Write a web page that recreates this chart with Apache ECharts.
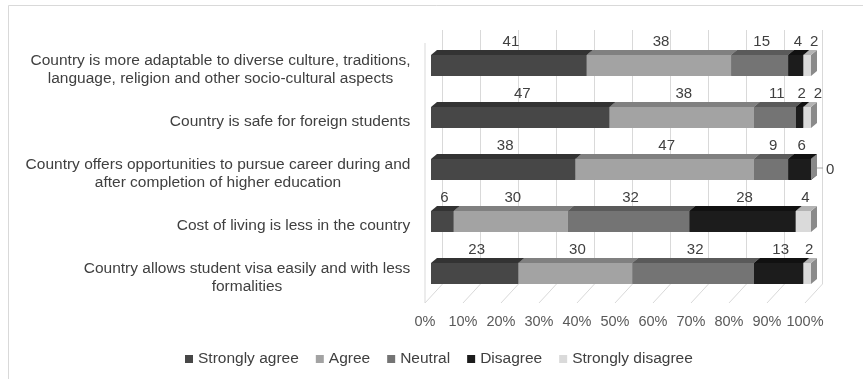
<!DOCTYPE html>
<html>
<head>
<meta charset="utf-8">
<script src="https://cdn.jsdelivr.net/npm/echarts@6/dist/echarts.min.js"></script>
<style>
  html, body { margin: 0; padding: 0; background: #ffffff; }
  #chart { width: 863px; height: 379px; }
</style>
</head>
<body>
<div id="chart"></div>
<script>
// Survey statements (top to bottom)
const categories = [
  'Country is more adaptable to diverse culture, traditions,\nlanguage, religion and other socio-cultural aspects',
  'Country is safe for foreign students',
  'Country offers opportunities to pursue career during and\nafter completion of higher education',
  'Cost of living is less in the country',
  'Country allows student visa easily and with less\nformalities'
];

const seriesNames = ['Strongly agree', 'Agree', 'Neutral', 'Disagree', 'Strongly disagree'];

// Percent of respondents per statement
const stronglyAgree    = [41, 47, 38, 6, 23];
const agree            = [38, 38, 47, 30, 30];
const neutral          = [15, 11, 9, 32, 32];
const disagree         = [4, 2, 6, 28, 13];
const stronglyDisagree = [2, 2, 0, 4, 2];

const tickValues = [0, 10, 20, 30, 40, 50, 60, 70, 80, 90, 100];

const FONT = '"Liberation Sans", Arial, sans-serif';
const FS = 15.5;
const FS_VALUE = 15;
const FS_TICK = 14.5;

// front / top / side shades for each response
const palette = [
  { front: '#474747', top: '#333333', side: '#2c2c2c' },
  { front: '#a3a3a3', top: '#808080', side: '#7a7a7a' },
  { front: '#747474', top: '#5a5a5a', side: '#555555' },
  { front: '#1c1c1c', top: '#111111', side: '#101010' },
  { front: '#dadada', top: '#b3b3b3', side: '#8a8a8a' }
];

const allValues = [stronglyAgree, agree, neutral, disagree, stronglyDisagree];

// segment start/end per series, stacked left to right
const starts = categories.map(() => 0);
const segments = allValues.map(vals => vals.map((v, i) => {
  const s = starts[i];
  starts[i] += v;
  return [s, s + v, i, v];
}));

// depth of the extruded bars
const DX = 6, DY = -5;

const ctx = document.createElement('canvas').getContext('2d');
const textW = (t, size) => { ctx.font = size + 'px ' + FONT; return ctx.measureText(t).width; };

// value labels sit above each segment; a label is pushed right when it would
// run into the one before it on the same bar
const LABEL_GAP = 8;
const labelRight = {}; // per category: right edge of the last placed label

function renderBar(si) {
  const col = palette[si];
  return function (params, api) {
    const s = api.value(0), e = api.value(1), c = api.value(2), v = api.value(3);
    const p0 = api.coord([s, c]);
    const p1 = api.coord([e, c]);
    const h = api.size([0, 1])[1] * 0.404;
    const yc = p0[1];
    const yt = yc - h / 2, yb = yc + h / 2;
    const x0 = p0[0], x1 = p1[0];
    const children = [];
    // right side face
    children.push({
      type: 'polygon',
      shape: { points: [[x1, yt], [x1 + DX, yt + DY], [x1 + DX, yb + DY], [x1, yb]] },
      style: { fill: col.side }
    });
    if (e > s) {
      children.push({
        type: 'polygon',
        shape: { points: [[x0, yt], [x0 + DX, yt + DY], [x1 + DX, yt + DY], [x1, yt]] },
        style: { fill: col.top }
      });
      children.push({
        type: 'rect',
        shape: { x: x0, y: yt, width: x1 - x0, height: h },
        style: { fill: col.front }
      });
      const txt = String(v);
      const w = textW(txt, FS_VALUE);
      let cx = (x0 + x1) / 2 + 2;
      if (si === 0) labelRight[c] = -Infinity;
      if (cx - w / 2 < labelRight[c] + LABEL_GAP) cx = labelRight[c] + LABEL_GAP + w / 2;
      labelRight[c] = cx + w / 2;
      children.push({
        type: 'text',
        style: {
          text: txt, x: cx, y: yc - 24,
          align: 'center', verticalAlign: 'middle',
          fill: '#404040', fontSize: FS_VALUE, fontFamily: FONT
        }
      });
    } else {
      // zero share: value placed beside the bar end with a short leader
      const ly = yc - 1.5;
      children.push({
        type: 'line',
        shape: { x1: x1 + DX, y1: ly, x2: x1 + DX + 6, y2: ly },
        style: { stroke: '#a6a6a6', lineWidth: 1 }
      });
      children.push({
        type: 'text',
        style: {
          text: String(v), x: x1 + DX + 9, y: yc,
          align: 'left', verticalAlign: 'middle',
          fill: '#404040', fontSize: FS_VALUE, fontFamily: FONT
        }
      });
    }
    return { type: 'group', children: children };
  };
}

// floor lines running from the back wall to the front edge, plus the side wall edge
function renderFloor(params, api) {
  const v = api.value(0);
  const p = api.coord([v, 0]);
  const children = [{
    type: 'line',
    shape: { x1: p[0], y1: p[1], x2: p[0] - 17.5, y2: p[1] + 19 },
    style: { stroke: '#d9d9d9', lineWidth: 1 }
  }];
  if (v === 0) {
    children.push({
      type: 'line',
      shape: { x1: p[0] - 17.5, y1: p[1] + 19, x2: p[0] - 17.5, y2: 43 },
      style: { stroke: '#d9d9d9', lineWidth: 1 }
    });
  }
  return { type: 'group', children: children };
}

// centred multi-line category labels: give each label a box as wide as its longest line
const rich = {};
categories.forEach((c, i) => {
  const w = Math.max(...c.split('\n').map(l => textW(l, FS)));
  rich['c' + i] = {
    width: Math.ceil(w) + 1, align: 'center', lineHeight: 18,
    fontSize: FS, fontFamily: FONT, color: '#404040'
  };
});

const chart = echarts.init(document.getElementById('chart'), null, { renderer: 'canvas' });

const series = seriesNames.map((name, si) => ({
  name: name,
  type: 'custom',
  xAxisIndex: 0, yAxisIndex: 0,
  renderItem: renderBar(si),
  clip: false,
  itemStyle: { color: palette[si].front },
  encode: { x: [0, 1], y: 2 },
  data: segments[si],
  z: 5 + si
}));

series.unshift({
  name: 'floor',
  type: 'custom',
  xAxisIndex: 1, yAxisIndex: 1,
  renderItem: renderFloor,
  clip: false,
  silent: true,
  encode: { x: 0 },
  data: tickValues.map(v => [v]),
  z: 1
});

chart.setOption({
  animation: false,
  backgroundColor: '#ffffff',
  textStyle: { fontFamily: FONT },
  graphic: [{
    type: 'rect',
    shape: { x: 8.5, y: 5.5, width: 900, height: 500 },
    style: { fill: 'none', stroke: '#d9d9d9', lineWidth: 1 },
    silent: true, z: -10
  }],
  legend: {
    data: seriesNames,
    left: 185, top: 351, padding: 0,
    icon: 'rect', itemWidth: 8, itemHeight: 8, itemGap: 17,
    textStyle: { fontSize: FS, color: '#404040', fontFamily: FONT }
  },
  grid: [
    { left: 431, top: 39.5, width: 380, height: 260 },
    { left: 442.5, top: 30, width: 380, height: 254 },
    { left: 425, top: 30, width: 380, height: 273 }
  ],
  xAxis: [
    { gridIndex: 0, type: 'value', min: 0, max: 100, interval: 10, show: false },
    {
      gridIndex: 1, type: 'value', min: 0, max: 100, interval: 10,
      axisLine: { show: false }, axisTick: { show: false }, axisLabel: { show: false },
      splitLine: { show: true, lineStyle: { color: '#d9d9d9', width: 1 } }
    },
    {
      gridIndex: 2, type: 'value', min: 0, max: 100, interval: 10,
      axisLine: { show: false }, axisTick: { show: false }, splitLine: { show: false },
      axisLabel: { formatter: '{value}%', margin: 11, fontSize: FS_TICK, color: '#595959', fontFamily: FONT }
    }
  ],
  yAxis: [
    {
      gridIndex: 0, type: 'category', inverse: true, data: categories,
      axisLine: { show: false }, axisTick: { show: false }, splitLine: { show: false },
      axisLabel: {
        margin: 20, padding: [8, 0, 0, 0],
        formatter: (val, idx) => val.split('\n').map(l => '{c' + idx + '|' + l + '}').join('\n'),
        rich: rich
      }
    },
    { gridIndex: 1, type: 'value', min: 0, max: 1, show: false },
    { gridIndex: 2, type: 'value', min: 0, max: 1, show: false }
  ],
  series: series
});
</script>
</body>
</html>
